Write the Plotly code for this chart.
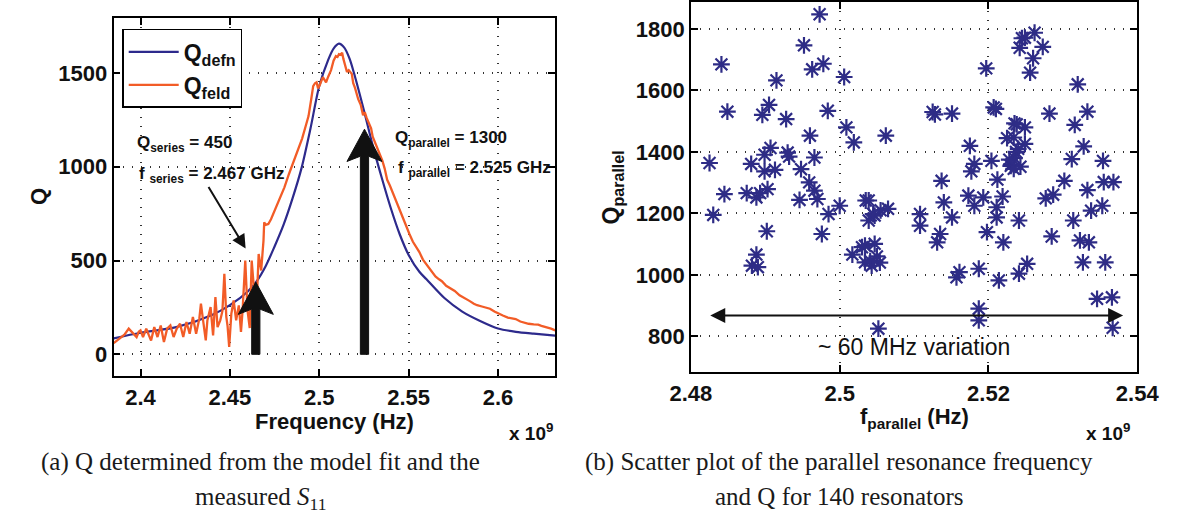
import plotly.graph_objects as go

W, H = 1192, 522

# ---------------- data ----------------
# Left panel: Q vs frequency (GHz, axis multiplier x 10^9)
DEFN_F = [2.385, 2.40, 2.42, 2.44, 2.45, 2.46, 2.465, 2.47, 2.475, 2.48, 2.485, 2.49,
          2.495, 2.50, 2.505, 2.508, 2.511, 2.514, 2.517, 2.52, 2.525, 2.53, 2.535,
          2.54, 2.545, 2.55, 2.556, 2.56, 2.57, 2.58, 2.59, 2.60, 2.61, 2.62, 2.632]
DEFN_Q = [85, 115, 145, 210, 262, 335, 390, 470, 575, 690, 830, 990,
          1200, 1430, 1570, 1630, 1656, 1635, 1575, 1480, 1300, 1110, 940,
          780, 640, 530, 440, 400, 300, 228, 178, 138, 120, 110, 100]

FELD_F = [2.3850, 2.3870, 2.3888, 2.3910, 2.3934, 2.3951, 2.3965, 2.3978, 2.3990, 2.4000,
          2.4014, 2.4032, 2.4047, 2.4059, 2.4077, 2.4095, 2.4113, 2.4131, 2.4149, 2.4167,
          2.4185, 2.4203, 2.4221, 2.4239, 2.4257, 2.4275, 2.4293, 2.4311, 2.4329, 2.4338,
          2.4350, 2.4365, 2.4374, 2.4392, 2.4406, 2.4419, 2.4431, 2.4446, 2.4458, 2.4469,
          2.4480, 2.4487, 2.4496, 2.4508, 2.4521, 2.4535, 2.4550, 2.4562, 2.4571, 2.4586,
          2.4598, 2.4611, 2.4622, 2.4634, 2.4647, 2.4661, 2.4675, 2.4688, 2.4692, 2.4700,
          2.4715, 2.4730, 2.4751, 2.4780, 2.4805, 2.4830, 2.4859, 2.4880, 2.4904, 2.4925,
          2.4940, 2.4955, 2.4966, 2.4976, 2.4985, 2.4993, 2.5003, 2.5020, 2.5038, 2.5050,
          2.5066, 2.5080, 2.5093, 2.5102, 2.5110, 2.5120, 2.5128, 2.5135, 2.5143, 2.5155,
          2.5165, 2.5173, 2.5182, 2.5190, 2.5200, 2.5218, 2.5232, 2.5245, 2.5255, 2.5265,
          2.5281, 2.5290, 2.5299, 2.5310, 2.5326, 2.5340, 2.5353, 2.5366, 2.5380, 2.5395,
          2.5416, 2.5435, 2.5452, 2.5470, 2.5488, 2.5505, 2.5524, 2.5540, 2.5560, 2.5580,
          2.5600, 2.5614, 2.5630, 2.5650, 2.5670, 2.5686, 2.5710, 2.5735, 2.5758, 2.5785,
          2.5812, 2.5840, 2.5865, 2.5883, 2.5910, 2.5935, 2.5955, 2.5980, 2.6005, 2.6027,
          2.6055, 2.6080, 2.6099, 2.6125, 2.6150, 2.6171, 2.6200, 2.6225, 2.6243, 2.6270,
          2.6297, 2.6320]
FELD_Q = [60, 75, 85, 105, 137, 119, 100, 92, 120, 128,
          92, 137, 101, 74, 145, 92, 154, 66, 137, 154,
          92, 137, 163, 92, 172, 110, 199, 110, 190, 270,
          181, 74, 181, 252, 101, 305, 145, 181, 230, 429,
          200, 150, 39, 216, 287, 181, 261, 120, 234, 500,
          240, 140, 500, 340, 200, 535, 447, 606, 704, 690,
          695, 720, 766, 830, 890, 960, 1032, 1090, 1150, 1220,
          1270, 1360, 1430, 1445, 1450, 1418, 1435, 1478, 1450, 1480,
          1515, 1565, 1590, 1585, 1600, 1596, 1608, 1575, 1548, 1505,
          1515, 1502, 1495, 1445, 1420, 1360, 1330, 1275, 1290, 1260,
          1230, 1205, 1160, 1135, 1100, 1065, 1032, 990, 930, 900,
          850, 800, 765, 720, 675, 640, 600, 575, 545, 505,
          480, 464, 440, 415, 400, 390, 365, 350, 338, 315,
          298, 285, 270, 262, 255, 248, 243, 228, 215, 207,
          196, 193, 188, 175, 168, 163, 160, 158, 152, 146,
          137, 128]

# Right panel: scatter of parallel resonance frequency (GHz) and Q
SCAT_F = [2.4825, 2.4830, 2.4841, 2.4845, 2.4849, 2.4875, 2.4881, 2.4888, 2.4893, 2.4899,
          2.4899, 2.4896, 2.4905, 2.4907, 2.4903, 2.4913, 2.4915, 2.4928, 2.4930, 2.4932,
          2.4946, 2.4948, 2.4952, 2.4960, 2.4959, 2.4963, 2.4966, 2.4966, 2.4970, 2.4973,
          2.4978, 2.4984, 2.4985, 2.5000, 2.5006, 2.5009, 2.5019, 2.5035, 2.5045, 2.4902,
          2.4888, 2.4882, 2.4890, 2.4976, 2.5017, 2.5034, 2.5034, 2.5039, 2.5047, 2.5043,
          2.5047, 2.5052, 2.5108, 2.5108, 2.5131, 2.5135, 2.5151, 2.5140, 2.5157, 2.5161,
          2.5181, 2.5187, 2.5187, 2.5187, 2.5198, 2.5211, 2.5211, 2.5214, 2.5220, 2.5241,
          2.5241, 2.5252, 2.5285, 2.5314, 2.5323, 2.5327, 2.5335, 2.5338, 2.5353, 2.5357,
          2.5346, 2.5366, 2.5367, 2.5062, 2.5065, 2.5055, 2.5125, 2.5128, 2.5151, 2.5137,
          2.5175, 2.5181, 2.5177, 2.5173, 2.5193, 2.5197, 2.5207, 2.5210, 2.5204, 2.5212,
          2.5219, 2.5235, 2.5238, 2.5249, 2.5225, 2.5234, 2.5249, 2.5237, 2.5235, 2.5231,
          2.5230, 2.5243, 2.5234, 2.5242, 2.5245, 2.5249, 2.5262, 2.5273, 2.5260, 2.5256,
          2.5282, 2.5277, 2.5287, 2.5302, 2.5312, 2.5316, 2.5320, 2.5328, 2.5333, 2.5333,
          2.5355, 2.5368, 2.5354, 2.5039, 2.5050, 2.5041, 2.5030, 2.5054, 2.5240, 2.5228]
SCAT_Q = [1364, 1195, 1685, 1263, 1531, 1266, 1361, 1252, 1266, 1337,
          1391, 1521, 1553, 1413, 1279, 1342, 1633, 1507, 1398, 1385,
          1244, 1344, 1747, 1453, 1301, 1669, 1382, 1274, 1247, 1848,
          1687, 1534, 1198, 1225, 1644, 1480, 1431, 1242, 1198, 1142,
          1066, 1030, 1025, 1133, 1066, 1095, 1041, 1177, 1193, 1030,
          1101, 825, 1198, 1160, 1106, 1133, 1187, 1236, 992, 1009,
          1225, 1020, 890, 852, 1139, 1220, 1187, 982, 1106, 1177,
          1004, 1036, 1125, 1177, 1112, 1041, 1106, 1209, 1225, 1041,
          922, 927, 828, 1453, 1215, 1210, 1530, 1522, 1525, 1306,
          1420, 1361, 1337, 1258, 1252, 1672, 1545, 1540, 1371, 1310,
          1255, 1493, 1490, 1480, 1445, 1447, 1426, 1400, 1380, 1360,
          1355, 1352, 1345, 1739, 1770, 1772, 1788, 1742, 1705, 1658,
          1525, 1249, 1261, 1306, 1377, 1488, 1620, 1418, 1531, 1276,
          1302, 1302, 1371, 1242, 1060, 1045, 1090, 1040, 1410, 1375]

LEFT_XTICKS = [2.4, 2.45, 2.5, 2.55, 2.6]
LEFT_XLABELS = ["2.4", "2.45", "2.5", "2.55", "2.6"]
LEFT_YTICKS = [0, 500, 1000, 1500]
RIGHT_XTICKS = [2.48, 2.5, 2.52, 2.54]
RIGHT_XLABELS = ["2.48", "2.5", "2.52", "2.54"]
RIGHT_YTICKS = [800, 1000, 1200, 1400, 1600, 1800]

# annotated resonance values
F_SERIES, Q_SERIES = 2.467, 450
F_PARALLEL, Q_PARALLEL = 2.525, 1300
# big arrows: (x position, tip height)
ARROW_SERIES = (2.4645, 385)
ARROW_PARALLEL = (2.5253, 1200)
# variation arrow (right panel)
VAR_F0, VAR_F1, VAR_Q = 2.4824, 2.5381, 868

BLUE = "#2d2a8c"
ORANGE = "#f25c27"
STAR = "#2e2c86"
SANS = "Liberation Sans"
SERIF = "Liberation Serif"

fig = go.Figure()
fig.add_trace(go.Scatter(x=DEFN_F, y=DEFN_Q, mode="lines", name="Q<sub>defn</sub>",
                         line=dict(color=BLUE, width=2.2, shape="spline", smoothing=0.8),
                         xaxis="x", yaxis="y"))
fig.add_trace(go.Scatter(x=FELD_F, y=FELD_Q, mode="lines", name="Q<sub>feld</sub>",
                         line=dict(color=ORANGE, width=2.3), xaxis="x", yaxis="y"))
fig.add_trace(go.Scatter(x=SCAT_F, y=SCAT_Q, mode="markers", name="resonators",
                         showlegend=False,
                         marker=dict(symbol="asterisk-open", size=14, color=STAR,
                                     line=dict(color=STAR, width=2.2)),
                         xaxis="x2", yaxis="y2"))

tickfont = dict(family=SANS, size=22, color="#111111", weight="bold")
common = dict(showline=True, linecolor="black", linewidth=1.8, mirror="ticks",
              ticks="inside", ticklen=7, tickwidth=1.5, tickcolor="black",
              showgrid=True, gridcolor="#333333", gridwidth=1.6, griddash="1.5px,7.5px",
              zeroline=False, tickfont=tickfont)


def pxx(x):
    return x / W


def pxy(y):
    return 1 - y / H


fig.update_layout(
    width=W, height=H, margin=dict(l=0, r=0, t=0, b=0),
    paper_bgcolor="white", plot_bgcolor="white",
    xaxis=dict(domain=[pxx(96), pxx(554)], range=[2.3849, 2.6319], anchor="y",
               tickmode="array", tickvals=LEFT_XTICKS, ticktext=LEFT_XLABELS, **common),
    yaxis=dict(domain=[pxy(376), pxy(17)], range=[-117, 1793], anchor="x",
               tickmode="array", tickvals=LEFT_YTICKS, **common),
    xaxis2=dict(domain=[pxx(695), pxx(1158)], range=[2.48, 2.54], anchor="y2",
                tickmode="array", tickvals=RIGHT_XTICKS, ticktext=RIGHT_XLABELS, **common),
    yaxis2=dict(domain=[pxy(372), pxy(1)], range=[683, 1888], anchor="x2",
                tickmode="array", tickvals=RIGHT_YTICKS, **common),
    showlegend=True,
    legend=dict(x=pxx(105), y=pxy(28), xanchor="left", yanchor="top",
                bgcolor="white", bordercolor="black", borderwidth=1.5,
                font=dict(family=SANS, size=23, color="#111111", weight="bold"),
                itemwidth=50, tracegroupgap=0),
)

# ---- big black arrows in the left panel ----
shapes = []
for (ax_f, tip_q) in [ARROW_SERIES, ARROW_PARALLEL]:
    sw = 0.0023       # half shaft width (GHz)
    hw = 0.0098       # half head width (GHz)
    corner = tip_q - 172
    notch = corner + 28
    path = (f"M {ax_f - sw},0 L {ax_f + sw},0 L {ax_f + sw},{notch} "
            f"L {ax_f + hw},{corner} L {ax_f},{tip_q} L {ax_f - hw},{corner} "
            f"L {ax_f - sw},{notch} Z")
    shapes.append(dict(type="path", xref="x", yref="y", path=path,
                       fillcolor="#111111", line=dict(color="#111111", width=1)))
fig.update_layout(shapes=shapes)


def label(x, y, text, font, xanchor="center", yanchor="middle", angle=0):
    return dict(xref="paper", yref="paper", x=pxx(x), y=pxy(y), xanchor=xanchor,
                yanchor=yanchor, showarrow=False, text=text, font=font,
                textangle=angle)


ann = []
bold17 = dict(family=SANS, size=17, color="#111111", weight="bold")
ann.append(label(118, 143, f"Q<sub>series</sub> = {Q_SERIES}", bold17, xanchor="left"))
ann.append(label(120, 174, f"f <sub>series</sub> = {F_SERIES} GHz", bold17, xanchor="left"))
ann.append(label(386, 138, f"Q<sub>parallel</sub> = {Q_PARALLEL}", bold17, xanchor="left"))
ann.append(label(389, 168, f"f <sub>parallel</sub> = {F_PARALLEL} GHz", bold17, xanchor="left"))
# thin pointer arrow
ann.append(dict(xref="x", yref="y", x=2.4588, y=564, ax=-38, ay=-63, text="",
                showarrow=True, arrowhead=2, arrowsize=1.4, arrowwidth=2,
                arrowcolor="#111111"))
# variation arrow (double headed)
ann.append(dict(xref="x2", yref="y2", x=VAR_F1, y=VAR_Q, axref="x2", ayref="y2",
                ax=VAR_F0, ay=VAR_Q, text="", showarrow=True, arrowhead=2,
                arrowside="end+start", arrowsize=1.5, arrowwidth=2, arrowcolor="#111111"))
ann.append(label(926, 347, "~ 60 MHz variation",
                 dict(family=SANS, size=23, color="#111111")))

# axis titles
big = dict(family=SANS, size=22, color="#111111", weight="bold")
sup19 = dict(family=SANS, size=19, color="#111111", weight="bold")
ann.append(label(18, 196, "Q", big, angle=-90))
ann.append(label(325, 421, "Frequency (Hz)", big))
ann.append(label(504, 432, "x 10<sup>9</sup>", sup19, xanchor="left"))
ann.append(label(614, 187, "Q<sub>parallel</sub>",
                 dict(family=SANS, size=23, color="#111111", weight="bold"), angle=-90))
ann.append(label(927, 418, "f<sub>parallel</sub> (Hz)", big))
ann.append(label(1103, 432, "x 10<sup>9</sup>", sup19, xanchor="left"))

# captions
cap = dict(family=SERIF, size=25, color="#1a1a1a")
ann.append(label(248, 462, "(a) Q determined from the model fit and the", cap))
ann.append(label(248, 498, "measured <i>S</i><sub>11</sub>", cap))
ann.append(label(849, 462, "(b) Scatter plot of the parallel resonance frequency", cap))
ann.append(label(849, 496, "and Q for 140 resonators", cap))

fig.update_layout(annotations=ann)
fig.write_html("out.html")
